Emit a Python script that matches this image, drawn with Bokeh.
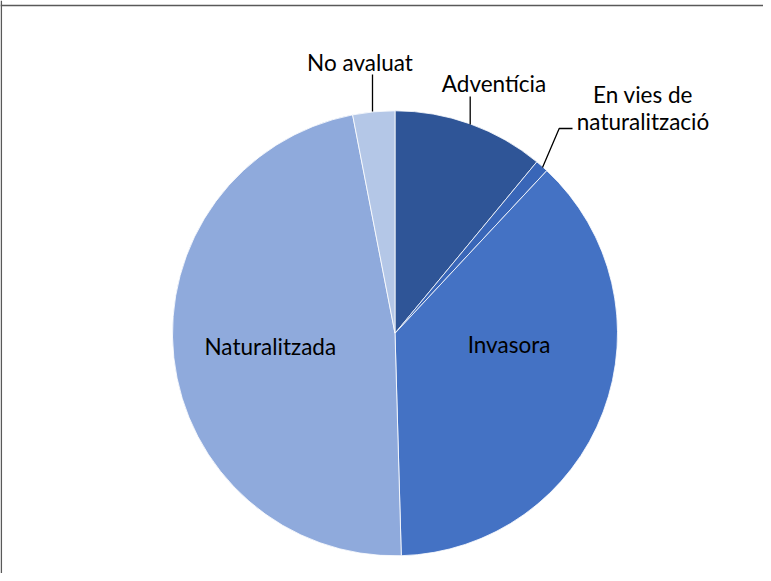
import numpy as np
from bokeh.plotting import figure
from bokeh.models import ColumnDataSource, Range1d, Span
from bokeh.core.properties import value
from bokeh.embed import file_html
from bokeh.resources import INLINE

# Data (percent share, clockwise from 12 o'clock)
categories = ["Adventícia", "En vies de naturalització", "Invasora", "Naturalitzada", "No avaluat"]
shares = [11.0, 0.95, 37.6, 47.4, 3.05]
colors = ["#2F5597", "#3966B8", "#4472C4", "#8FAADC", "#B4C7E7"]

W, H = 763, 573
p = figure(width=W, height=H, output_backend="svg", toolbar_location=None,
           x_range=Range1d(0, W), y_range=Range1d(0, H),
           min_border=0, min_border_left=0, min_border_right=0,
           min_border_top=0, min_border_bottom=0)
p.axis.visible = False
p.grid.visible = False
p.outline_line_color = None
p.background_fill_color = "white"
p.border_fill_color = "white"

vals = np.array(shares, dtype=float)
frac = vals / vals.sum()
cum = np.concatenate([[0], np.cumsum(frac)])
start = np.pi / 2 - 2 * np.pi * cum[:-1]
end = np.pi / 2 - 2 * np.pi * cum[1:]

cx, cy, r = 394.5, 240.2, 222.5
src = ColumnDataSource(dict(start=start, end=end, color=colors, cat=categories))
p.wedge(x=cx, y=cy, radius=r, start_angle="start", end_angle="end",
        direction="clock", fill_color="color", line_color="white", line_width=0.8,
        source=src)

# Border lines (top and left visible)
p.add_layout(Span(location=568, dimension="width", line_color="#595959", line_width=1.5))
p.add_layout(Span(location=0.8, dimension="height", line_color="#595959", line_width=1.5))

# Leader lines
p.line([372, 372], [499, 462], line_color="black", line_width=1.3)
p.line([469.7, 469.7], [477, 449], line_color="black", line_width=1.3)
p.line([542, 558.7, 572], [406, 445, 445], line_color="black", line_width=1.3)

font = value("Lato")
fs = "22.5px"
labels_x = [359.5, 493.5, 642.5, 642.5, 269.8, 508.5]
labels_y = [511, 490, 479.5, 452, 227, 229.5]
labels_t = ["No avaluat", "Adventícia", "En vies de", "naturalització", "Naturalitzada", "Invasora"]
p.text(x=labels_x, y=labels_y, text=labels_t, text_font=font, text_font_size=fs,
       text_align="center", text_baseline="middle", text_color="black")

open("out.html", "w").write(file_html(p, INLINE))
